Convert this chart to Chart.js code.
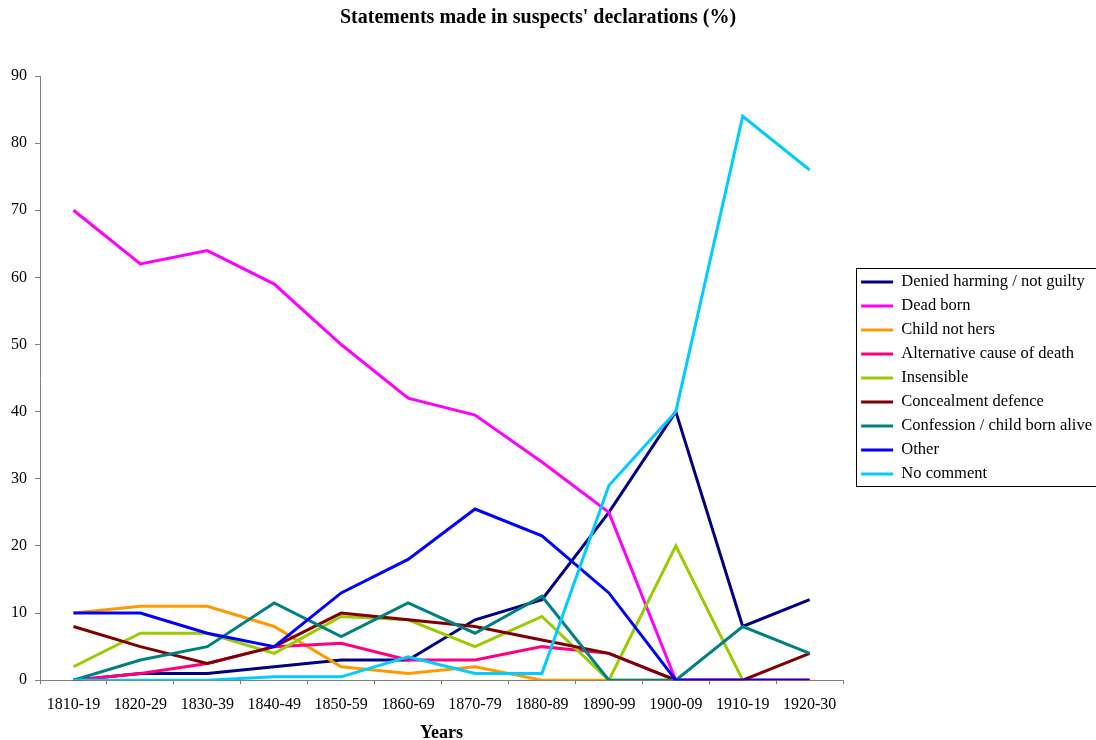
<!DOCTYPE html>
<html>
<head>
<meta charset="utf-8">
<script src="https://cdn.jsdelivr.net/npm/chart.js@4/dist/chart.umd.min.js"></script>
<style>
  body { margin: 0; background: #fff; overflow: hidden; }
  #wrap { width: 1096px; height: 740px; }
</style>
</head>
<body>
<div id="wrap"><canvas id="chart" width="1096" height="740"></canvas></div>
<script>
const decades = ['1810-19', '1820-29', '1830-39', '1840-49', '1850-59', '1860-69',
                 '1870-79', '1880-89', '1890-99', '1900-09', '1910-19', '1920-30'];

// percentages
const deniedHarming = [0, 1, 1, 2, 3, 3, 9, 12, 25, 40, 8, 12];
const deadBorn      = [70, 62, 64, 59, 50, 42, 39.5, 32.5, 25, 0, 0, 0];
const childNotHers  = [10, 11, 11, 8, 2, 1, 2, 0, 0, 0, 0, 0];
const altCause      = [0, 1, 2.5, 5, 5.5, 3, 3, 5, 4, 0, 0, 0];
const insensible    = [2, 7, 7, 4, 9.5, 9, 5, 9.5, 0, 20, 0, 0];
const concealment   = [8, 5, 2.5, 5, 10, 9, 8, 6, 4, 0, 0, 4];
const confession    = [0, 3, 5, 11.5, 6.5, 11.5, 7, 12.5, 0, 0, 8, 4];
const other         = [10, 10, 7, 5, 13, 18, 25.5, 21.5, 13, 0, 0, 0];
const noComment     = [0, 0, 0, 0.5, 0.5, 3.5, 1, 1, 29, 40, 84, 76];

const series = [
    { label: 'Denied harming / not guilty', data: deniedHarming, color: '#000080' },
    { label: 'Dead born', data: deadBorn, color: '#FF00FF' },
    { label: 'Child not hers', data: childNotHers, color: '#FF9900' },
    { label: 'Alternative cause of death', data: altCause, color: '#FF0080' },
    { label: 'Insensible', data: insensible, color: '#99CC00' },
    { label: 'Concealment defence', data: concealment, color: '#800000' },
    { label: 'Confession / child born alive', data: confession, color: '#008080' },
    { label: 'Other', data: other, color: '#0000FF' },
    { label: 'No comment', data: noComment, color: '#00CCFF' }
];

const serif = '"Liberation Serif", "DejaVu Serif", serif';

// box round the legend, like the spreadsheet one
const legendBorder = {
    id: 'legendBorder',
    afterDraw(chart) {
        const boxes = chart.legend && chart.legend.legendHitBoxes;
        if (!boxes || !boxes.length) return;
        const first = boxes[0];
        const last = boxes[boxes.length - 1];
        const ctx = chart.ctx;
        ctx.save();
        ctx.strokeStyle = '#000';
        ctx.lineWidth = 1;
        const x = Math.round(first.left - 5) + 0.5;
        const y = Math.round(first.top - 6) + 0.5;
        ctx.strokeRect(x, y, chart.width + 10 - x, Math.round(last.top - first.top + 26));
        ctx.restore();
    }
};

// the original title sits a little left of the page centre
const titleShift = {
    id: 'titleShift',
    afterLayout(chart) {
        if (chart.titleBlock) {
            chart.titleBlock.left = 0;
            chart.titleBlock.right = 1076;
        }
    }
};

new Chart(document.getElementById('chart'), {
    type: 'line',
    data: {
        labels: decades,
        datasets: series.map((s, i) => ({
            label: s.label,
            data: s.data,
            borderColor: s.color,
            backgroundColor: s.color,
            borderWidth: 3,
            pointRadius: 0,
            pointHoverRadius: 0,
            tension: 0,
            fill: false,
            order: series.length - i
        }))
    },
    options: {
        responsive: false,
        animation: false,
        layout: { padding: { left: 3, right: -6, top: 0, bottom: -4 } },
        plugins: {
            title: {
                display: true,
                text: "Statements made in suspects' declarations (%)",
                color: '#000',
                font: { family: serif, size: 20, weight: 'bold' },
                padding: { top: 6, bottom: 46 }
            },
            legend: {
                position: 'right',
                fullSize: false,
                maxWidth: 320,
                labels: {
                    color: '#000',
                    font: { family: serif, size: 16.5 },
                    usePointStyle: true,
                    pointStyle: 'line',
                    pointStyleWidth: 32,
                    padding: 7.5,
                    sort: (a, b) => a.datasetIndex - b.datasetIndex
                }
            },
            tooltip: { enabled: false }
        },
        scales: {
            x: {
                offset: true,
                grid: {
                    offset: true,
                    drawOnChartArea: false,
                    color: '#808080',
                    tickLength: 4
                },
                border: { color: '#808080', width: 1 },
                ticks: {
                    color: '#000',
                    font: { family: serif, size: 16 },
                    maxRotation: 0,
                    autoSkip: false,
                    padding: 11
                },
                title: {
                    display: true,
                    text: 'Years',
                    color: '#000',
                    font: { family: serif, size: 18, weight: 'bold' },
                    padding: { top: -3, bottom: 0 }
                }
            },
            y: {
                min: 0,
                max: 90,
                ticks: {
                    stepSize: 10,
                    color: '#000',
                    font: { family: serif, size: 16 },
                    padding: 8
                },
                grid: {
                    drawOnChartArea: false,
                    color: '#808080',
                    tickLength: 5
                },
                border: { color: '#808080', width: 1 }
            },
            // empty axis that only keeps a gap between the plot and the legend
            gap: {
                type: 'linear',
                position: 'right',
                display: true,
                grid: { display: false },
                ticks: { display: false },
                border: { display: false },
                afterFit(scale) { scale.width = 10.5; }
            }
        }
    },
    plugins: [legendBorder, titleShift]
});
</script>
</body>
</html>
